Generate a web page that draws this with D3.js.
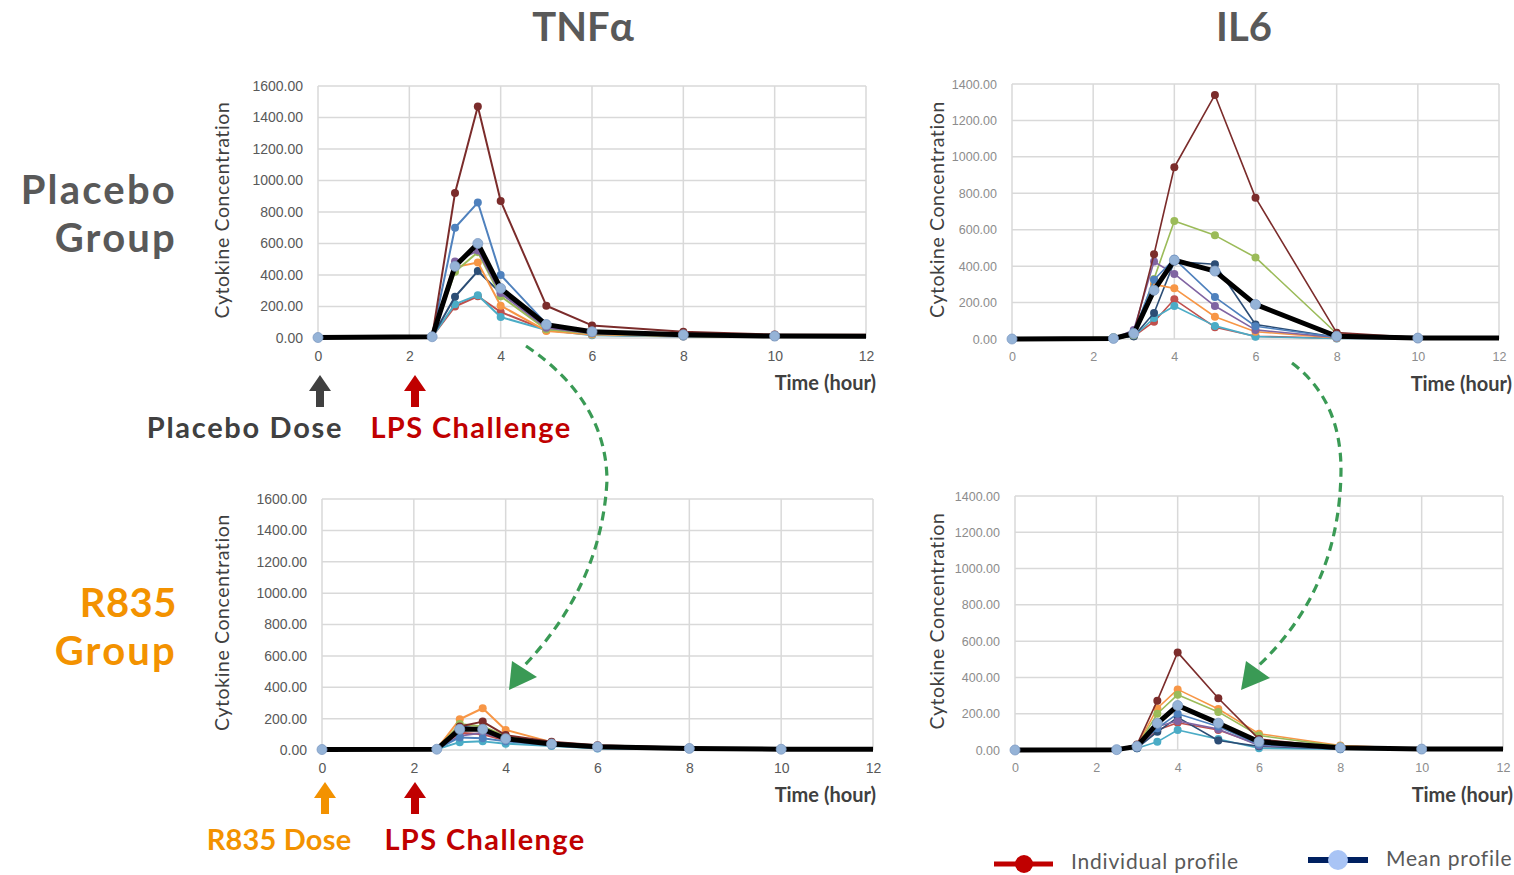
<!DOCTYPE html>
<html>
<head>
<meta charset="utf-8">
<script src="https://cdn.jsdelivr.net/npm/d3@7"></script>
<style>
  body { margin: 0; background: #fff; }
  svg { display: block; }
</style>
</head>
<body>
<div id="chart"></div>
<script>
// Cytokine profiles: TNFa / IL6, placebo vs R835 group

const times = [0, 2.5, 3, 3.5, 4, 5, 6, 8, 10, 24];
const xTicks = [0, 2, 4, 6, 8, 10, 12];

// individual order: red, teal, navy, orange, green, purple, blue, maroon
const seriesColors = ["#c0504d", "#4bacc6", "#2c4d75", "#f79646", "#9bbb59", "#8064a2", "#4f81bd", "#7b2c2b"];

const tnfPlacebo = [
  [2, 8, 200, 265, 165, 50, 20, 10, 6, 4],
  [2, 8, 215, 272, 133, 50, 18, 10, 6, 4],
  [2, 8, 262, 425, 285, 80, 30, 15, 8, 5],
  [2, 8, 450, 480, 205, 45, 22, 12, 8, 5],
  [2, 8, 420, 545, 265, 55, 28, 12, 8, 5],
  [2, 8, 485, 555, 285, 65, 30, 15, 8, 5],
  [2, 8, 700, 860, 400, 90, 35, 15, 10, 5],
  [3, 8, 920, 1470, 870, 205, 80, 40, 22, 10]
];
const tnfPlaceboMean = [3, 8, 455, 600, 315, 85, 40, 20, 12, 8];

const il6Placebo = [
  [0, 3, 15, 95, 218, 65, 15, 4, 2, 2],
  [0, 3, 15, 115, 181, 72, 13, 3, 2, 2],
  [0, 3, 15, 143, 425, 410, 80, 10, 4, 3],
  [0, 3, 25, 300, 278, 122, 40, 6, 3, 2],
  [0, 10, 20, 330, 648, 569, 448, 30, 5, 3],
  [0, 3, 50, 425, 357, 181, 50, 8, 4, 3],
  [0, 3, 40, 325, 440, 230, 70, 10, 4, 3],
  [0, 2, 30, 465, 943, 1340, 776, 35, 8, 5]
];
const il6PlaceboMean = [0, 3, 30, 268, 433, 373, 190, 15, 5, 4];

const tnfR835 = [
  [3, 5, 110, 100, 60, 35, 15, 8, 5, 3],
  [3, 5, 50, 55, 40, 25, 10, 6, 4, 3],
  [3, 5, 150, 135, 80, 40, 18, 10, 5, 3],
  [3, 5, 196, 266, 128, 50, 25, 12, 6, 4],
  [3, 5, 165, 150, 90, 45, 20, 10, 6, 4],
  [3, 5, 90, 110, 70, 35, 15, 8, 5, 3],
  [3, 5, 80, 75, 55, 30, 12, 6, 4, 3],
  [3, 5, 150, 181, 95, 52, 30, 15, 8, 5]
];
const tnfR835Mean = [3, 5, 132, 132, 72, 38, 20, 10, 5, 4];

const il6R835 = [
  [0, 2, 15, 110, 150, 110, 30, 8, 4, 3],
  [0, 2, 10, 45, 110, 60, 10, 4, 2, 2],
  [0, 2, 10, 100, 180, 52, 20, 6, 3, 2],
  [0, 2, 25, 230, 334, 226, 90, 25, 8, 5],
  [0, 2, 20, 200, 305, 210, 80, 20, 6, 4],
  [0, 2, 15, 130, 160, 115, 25, 8, 4, 3],
  [0, 2, 15, 120, 200, 130, 30, 8, 4, 3],
  [0, 2, 30, 272, 538, 285, 60, 15, 5, 3]
];
const il6R835Mean = [0, 2, 20, 147, 245, 148, 45, 12, 5, 4];

const W = 1514, H = 875;
const svg = d3.select("#chart").append("svg").attr("width", W).attr("height", H);

const panels = [
  { id: "tl", series: tnfPlacebo, mean: tnfPlaceboMean, yMax: 1600, left: 318, right: 866, top: 86, bottom: 338,
    tickSize: 14, tickColor: "#595959", lw: 2, labelX: 221, timeX: 876 },
  { id: "tr", series: il6Placebo, mean: il6PlaceboMean, yMax: 1400, left: 1012, right: 1499, top: 84, bottom: 339,
    tickSize: 12.5, tickColor: "#8c8c8c", lw: 1.6, labelX: 936, timeX: 1512 },
  { id: "bl", series: tnfR835, mean: tnfR835Mean, yMax: 1600, left: 322, right: 873, top: 499, bottom: 750,
    tickSize: 14, tickColor: "#595959", lw: 2, labelX: 221, timeX: 876 },
  { id: "br", series: il6R835, mean: il6R835Mean, yMax: 1400, left: 1015, right: 1503, top: 496, bottom: 750,
    tickSize: 12.5, tickColor: "#8c8c8c", lw: 1.6, labelX: 936, timeX: 1513 }
];

panels.forEach(p => {
  const x = d3.scaleLinear().domain([0, 12]).range([p.left, p.right]);
  const y = d3.scaleLinear().domain([0, p.yMax]).range([p.bottom, p.top]);
  const g = svg.append("g");

  // grid
  g.selectAll("line.hg").data(y.ticks(p.yMax / 200)).join("line")
    .attr("x1", p.left).attr("x2", p.right)
    .attr("y1", d => y(d)).attr("y2", d => y(d))
    .attr("stroke", "#d9d9d9").attr("stroke-width", 1.5);
  g.selectAll("line.vg").data(xTicks).join("line")
    .attr("x1", d => x(d)).attr("x2", d => x(d))
    .attr("y1", p.top).attr("y2", p.bottom)
    .attr("stroke", "#d9d9d9").attr("stroke-width", 1.5);

  // axes (labels only)
  const ya = g.append("g").attr("transform", `translate(${p.left},0)`)
    .call(d3.axisLeft(y).ticks(p.yMax / 200).tickFormat(d3.format(".2f")).tickSize(0).tickPadding(15));
  const xa = g.append("g").attr("transform", `translate(0,${p.bottom})`)
    .call(d3.axisBottom(x).tickValues(xTicks).tickSize(0).tickPadding(13));
  [ya, xa].forEach(a => {
    a.select(".domain").remove();
    a.selectAll("text").attr("font-family", "Liberation Sans").attr("font-size", p.tickSize).attr("fill", p.tickColor);
  });

  // clip so the late sample is cut at 12 h
  svg.append("clipPath").attr("id", "clip-" + p.id).append("rect")
    .attr("x", p.left - 12).attr("y", p.top - 12)
    .attr("width", p.right - p.left + 12).attr("height", p.bottom - p.top + 24);
  const plot = g.append("g").attr("clip-path", `url(#clip-${p.id})`);

  const line = d3.line().x((d, i) => x(times[i])).y(d => y(d));

  p.series.forEach((s, k) => {
    const c = seriesColors[k];
    plot.append("path").datum(s).attr("d", line)
      .attr("fill", "none").attr("stroke", c).attr("stroke-width", p.lw).attr("stroke-linejoin", "round");
    plot.selectAll(null).data(s).join("circle")
      .attr("cx", (d, i) => x(times[i])).attr("cy", d => y(d))
      .attr("r", 4).attr("fill", c);
  });

  plot.append("path").datum(p.mean).attr("d", line)
    .attr("fill", "none").attr("stroke", "#000").attr("stroke-width", 5).attr("stroke-linejoin", "round");
  plot.selectAll(null).data(p.mean).join("circle")
    .attr("cx", (d, i) => x(times[i])).attr("cy", d => y(d))
    .attr("r", 5).attr("fill", "#95b3d7").attr("stroke", "#7f9cc4").attr("stroke-width", 0.8);

  // axis titles
  svg.append("text")
    .attr("transform", `translate(${p.labelX},${(p.top + p.bottom) / 2 - 2}) rotate(-90)`)
    .attr("text-anchor", "middle").attr("dominant-baseline", "central")
    .attr("font-family", "Lato").attr("font-size", 19.5).attr("letter-spacing", 0.6).attr("fill", "#404040")
    .text("Cytokine Concentration");
  svg.append("text")
    .attr("x", p.timeX).attr("y", p.bottom + 52)
    .attr("text-anchor", "end")
    .attr("font-family", "Lato").attr("font-weight", "bold").attr("font-size", 20).attr("fill", "#404040")
    .text("Time (hour)");
});

// big bold labels
const big = (txt, xx, yy, color, size, anchor, spacing) => svg.append("text")
  .attr("x", xx).attr("y", yy).attr("text-anchor", anchor || "middle")
  .attr("font-family", "Lato").attr("font-weight", "bold").attr("font-size", size).attr("fill", color)
  .attr("letter-spacing", spacing || 0)
  .text(txt);

big("TNFα", 583, 41, "#595959", 40);
big("IL6", 1244, 41, "#595959", 40);

// row titles
big("Placebo", 177, 204, "#595959", 40, "end", 2.2);
big("Group", 177, 252, "#595959", 40, "end", 2.2);
big("R835", 177, 617, "#f39200", 40, "end", 0.5);
big("Group", 177, 665, "#f39200", 40, "end", 2.2);

// dose / challenge labels
big("Placebo Dose", 245, 438, "#404040", 29, "middle", 1.7);
big("LPS Challenge", 471, 438, "#c00000", 29, "middle", 1.4);
big("R835 Dose", 279, 850, "#f39200", 29, "middle", 0.2);
big("LPS Challenge", 485, 850, "#c00000", 29, "middle", 1.4);

// block up arrows
const upArrow = (cx, top, bottom, color) => {
  const headH = 16, hw = 11, sw = 4;
  svg.append("path")
    .attr("d", `M${cx},${top} L${cx + hw},${top + headH} L${cx + sw},${top + headH} L${cx + sw},${bottom}
                L${cx - sw},${bottom} L${cx - sw},${top + headH} L${cx - hw},${top + headH} Z`)
    .attr("fill", color);
};
upArrow(320, 375, 407, "#404040");
upArrow(415, 375, 407, "#c00000");
upArrow(325, 782, 814, "#f39200");
upArrow(415, 782, 814, "#c00000");

// green dashed curved arrows
const green = "#3a9a55";
svg.append("path").attr("d", "M526,346 Q606,400 607,480 Q602,585 522,668")
  .attr("fill", "none").attr("stroke", green).attr("stroke-width", 3.2).attr("stroke-dasharray", "9,6");
svg.append("path").attr("d", "M509,690 L512,661 L537,677 Z").attr("fill", green);
svg.append("path").attr("d", "M1292,363 Q1341,400 1341,470 Q1340,590 1256,668")
  .attr("fill", "none").attr("stroke", green).attr("stroke-width", 3.2).attr("stroke-dasharray", "9,6");
svg.append("path").attr("d", "M1241,690 L1246,661 L1270,678 Z").attr("fill", green);

// legend
svg.append("line").attr("x1", 994).attr("x2", 1053).attr("y1", 864).attr("y2", 864)
  .attr("stroke", "#c00000").attr("stroke-width", 5);
svg.append("circle").attr("cx", 1024).attr("cy", 864).attr("r", 9).attr("fill", "#c00000");
svg.append("text").attr("x", 1071).attr("y", 869)
  .attr("font-family", "Lato").attr("font-size", 21).attr("letter-spacing", 0.8).attr("fill", "#595959").text("Individual profile");
svg.append("line").attr("x1", 1308).attr("x2", 1368).attr("y1", 860).attr("y2", 860)
  .attr("stroke", "#002060").attr("stroke-width", 6);
svg.append("circle").attr("cx", 1338).attr("cy", 860).attr("r", 10).attr("fill", "#a9c4f5");
svg.append("text").attr("x", 1386).attr("y", 866)
  .attr("font-family", "Lato").attr("font-size", 21).attr("letter-spacing", 0.8).attr("fill", "#595959").text("Mean profile");
</script>
</body>
</html>
